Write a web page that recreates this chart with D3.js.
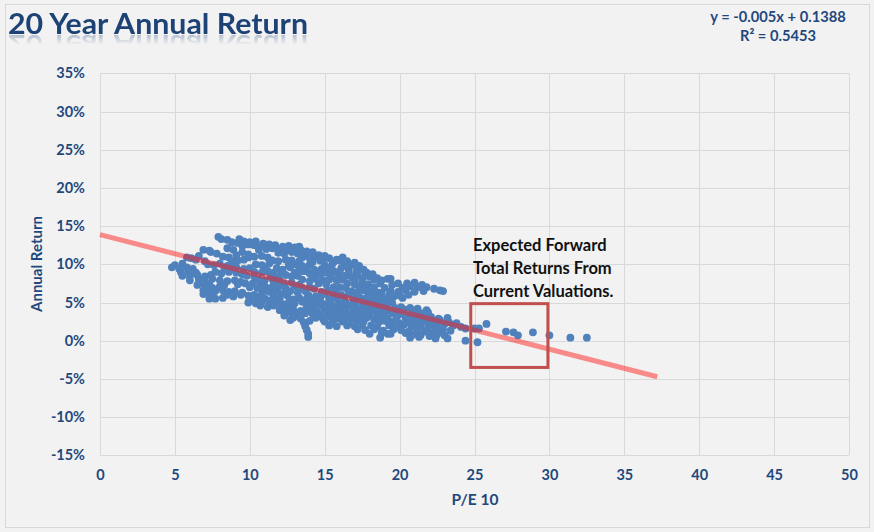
<!DOCTYPE html>
<html>
<head>
<meta charset="utf-8">
<script src="https://cdn.jsdelivr.net/npm/d3@7"></script>
<style>
html,body{margin:0;padding:0;background:#f2f2f2;}
svg{display:block;}
text{font-family:Lato,"Open Sans",sans-serif;}
#wrap{position:relative;width:874px;height:532px;}
#title{position:absolute;left:8px;top:9px;font-family:Lato,"Open Sans",sans-serif;font-weight:bold;
  font-size:28px;line-height:28px;white-space:nowrap;color:#1d4275;transform-origin:0 0;
  -webkit-box-reflect: below -5px linear-gradient(to bottom, rgba(0,0,0,0) 55%, rgba(0,0,0,0.38));}
</style>
</head>
<body>
<div id="wrap">
<svg id="chart" width="874" height="532"></svg>
<div id="title"></div>
</div>
<script>
// ---------------- DATA ----------------
const xTicks = [0,5,10,15,20,25,30,35,40,45,50];
const yTicks = [-15,-10,-5,0,5,10,15,20,25,30,35];
const titleText = "20 Year Annual Return";
const xAxisTitle = "P/E 10";
const yAxisTitle = "Annual Return";
const equationLines = ["y = -0.005x + 0.1388", "R\u00B2 = 0.5453"];
const trendSlope = -0.005, trendIntercept = 0.1388, trendXRange = [0, 37.2];
const annotationLines = ["Expected Forward", "Total Returns From", "Current Valuations."];
const annotationBox = {pe:[24.75, 29.9], ret:[4.85, -3.5]};

// [P/E 10, annual return %]
const lowValuationPoints = [
[7.9,13.6],[8.1,13.3],[8.5,13.2],[9.3,13.3],[8.8,12.9],[9.2,12.8],[9.6,13.0],
[9.5,12.4],[8.5,12.1],[8.9,11.9],[7.4,11.6],[7.8,11.4],[9.5,11.6],[9.9,11.3],
[6.6,11.1],[6.9,11.9],[7.3,11.8],[8.2,11.0],[8.6,10.9],[9.9,10.9],[9.1,11.2],
[5.8,10.9],[6.1,10.8],[6.4,10.6],[7.0,10.4],[9.2,10.5],[9.6,10.6],[8.8,10.4],
[5.0,9.9],[5.5,10.1],[7.2,10.0],[7.6,9.9],[8.0,10.1],[8.5,9.8],[9.0,10.0],
[4.8,9.6],[5.3,9.4],[5.8,9.6],[6.2,9.4],[8.3,9.5],[8.7,9.3],[9.1,9.6],[9.6,9.4],
[5.4,9.0],[5.9,9.1],[6.4,8.9],[7.7,9.0],[8.1,8.8],[8.6,9.0],[9.1,8.9],[9.5,8.7],
[5.5,8.5],[6.0,8.4],[6.5,8.6],[7.0,8.4],[9.8,8.5],[7.4,8.6],
[6.0,7.9],[6.6,8.0],[7.0,7.9],[7.5,8.1],[8.0,7.9],[8.5,7.8],[9.0,7.9],[9.4,7.7],
[6.5,7.3],[6.9,7.5],[7.3,7.4],[9.2,7.4],[9.7,7.5],[8.3,7.3],
[6.9,6.6],[7.1,7.0],[7.5,6.9],[8.0,7.1],
[7.3,6.4],[7.7,6.5],[8.2,6.6],[8.6,6.4],[9.0,6.5],[9.5,6.3],
[6.9,6.1],[7.4,5.9],[8.5,6.0],[8.9,5.8],[9.4,6.0],[9.9,5.9],
[7.3,5.5],[7.7,5.5],[8.2,5.6]
];
const midValuationPoints = [
[10.0,12.9],[10.4,13.0],[10.9,12.7],
[9.9,12.6],[10.3,12.5],[10.8,12.4],[11.3,12.6],[11.7,12.5],[12.2,12.3],[12.6,12.4],[13.0,12.2],[13.3,12.3],
[10.6,11.9],[11.1,12.0],[11.5,12.1],[12.0,11.9],[12.4,12.0],[12.9,11.8],[13.4,11.9],[13.8,11.7],[14.2,11.6],
[11.9,11.5],[12.3,11.4],[12.8,11.6],[13.2,11.4],[13.7,11.3],[14.1,11.4],[14.6,11.2],[15.0,11.1],
[10.3,11.0],[10.8,11.1],[11.2,10.9],[13.5,10.9],[14.0,10.8],[14.4,11.0],[14.9,10.7],[15.3,10.8],[15.8,10.6],
[11.5,10.5],[11.9,10.4],[12.4,10.6],[12.8,10.5],[14.2,10.3],[14.7,10.5],[15.6,10.3],[13.3,10.4],
[10.4,10.0],[10.8,9.9],[11.3,10.1],[12.6,9.9],[13.1,10.0],[13.5,9.8],[14.0,10.0],[15.0,9.9],[15.5,10.0],
[10.0,9.5],[11.8,9.5],[12.2,9.3],[12.7,9.6],[13.3,9.4],[13.8,9.5],[14.3,9.3],[14.8,9.4],[15.3,9.5],[11.0,9.6],
[10.3,9.0],[10.8,8.9],[11.2,9.1],[11.6,8.9],[12.1,9.0],[13.0,8.9],[13.6,9.1],[14.0,8.8],[14.6,9.0],[15.1,8.9],[15.6,9.1],
[10.3,8.4],[11.4,8.5],[11.9,8.3],[12.4,8.6],[12.8,8.4],[13.2,8.5],[14.2,8.4],[14.7,8.6],[15.4,8.4],[15.9,8.5],
[10.6,8.0],[11.0,7.9],[11.5,8.1],[12.0,7.9],[13.5,8.0],[14.0,7.8],[14.4,8.1],[14.9,7.9],[15.3,8.0],[15.8,7.9],
[10.2,7.5],[10.7,7.4],[12.3,7.5],[12.8,7.6],[13.3,7.3],[14.6,7.5],[15.1,7.4],[11.6,7.6],
[10.0,7.0],[10.5,6.9],[11.0,7.1],[11.4,6.9],[11.9,7.0],[12.4,6.8],[13.0,7.1],[13.5,6.9],[14.0,7.0],[14.3,6.8],[15.6,7.0],
[10.9,6.5],[11.3,6.4],[11.8,6.6],[12.7,6.5],[13.2,6.3],[13.7,6.5],[14.8,6.4],[15.2,6.6],[15.7,6.4],
[10.3,6.0],[11.6,5.9],[12.1,6.1],[12.5,5.9],[13.9,6.0],[14.4,5.8],[15.0,6.1],[15.5,5.9],[10.8,6.1],
[10.0,5.4],[10.5,5.6],[11.0,5.5],[11.4,5.3],[12.0,5.5],[12.9,5.4],[13.3,5.6],[13.8,5.5],[14.2,5.3],[14.7,5.5],[15.3,5.4],[15.8,5.6],
[9.9,5.0],[10.4,4.9],[10.8,5.1],[11.3,4.9],[11.7,5.0],[12.2,4.8],[12.6,5.0],[13.0,4.9],[13.5,5.1],[14.0,4.9],[14.4,5.0],[14.9,4.8],[15.4,5.0],[15.9,4.9],
[10.7,4.6],[11.2,4.4],[11.6,4.6],[12.1,4.5],[12.6,4.3],[13.8,4.5],[14.3,4.4],[14.8,4.6],[15.2,4.5],[15.7,4.3],
[12.0,4.0],[12.4,3.9],[12.9,4.1],[13.4,3.9],[14.1,4.0],[14.5,3.8],[15.0,4.1],[15.5,3.9],[15.9,4.0],
[12.3,3.3],[12.8,3.5],[13.2,3.4],[13.7,3.6],[14.2,3.5],[14.7,3.3],[15.2,3.5],[15.7,3.4],
[12.7,2.7],[12.9,3.0],[13.4,2.9],[14.4,3.0],[14.9,2.8],[15.4,3.1],[15.8,2.9],
[13.6,2.4],[14.0,2.6],[15.0,2.5],[15.5,2.4],
[13.7,1.9],[15.3,2.0],[15.8,1.9],
[13.8,1.4],[13.9,0.9],[13.9,0.5]
];
const highValuationPoints = [
[16.2,10.9],
[16.0,10.5],[16.5,10.4],[17.0,10.2],
[16.3,10.0],[16.8,9.9],[17.3,9.8],
[16.1,9.5],[17.2,9.4],[17.6,9.3],[16.6,9.4],
[16.0,9.0],[16.6,8.8],[17.8,8.9],[18.2,8.7],[17.1,9.0],
[16.4,8.5],[16.8,8.3],[17.2,8.6],[17.7,8.5],[18.0,8.4],[18.5,8.2],
[16.2,8.0],[17.0,7.9],[17.5,8.1],[18.3,8.0],[18.8,7.9],[19.2,8.1],[19.4,8.1],
[16.5,7.5],[17.0,7.4],[17.5,7.6],[17.9,7.4],[18.7,7.5],[19.5,7.3],[19.9,7.5],[20.5,7.5],[21.0,7.6],[21.5,7.3],
[16.0,7.0],[16.4,6.9],[17.3,7.1],[17.8,6.9],[18.3,7.0],[19.0,6.9],[20.2,6.9],[20.7,7.1],[21.2,7.0],[21.8,7.0],[22.3,6.8],[22.7,6.6],
[16.8,6.5],[17.2,6.4],[17.6,6.6],[18.1,6.5],[18.6,6.3],[19.4,6.5],[19.9,6.4],[20.4,6.6],[21.0,6.4],[21.6,6.5],[22.9,6.5],
[16.1,6.0],[16.6,6.1],[17.1,5.9],[17.9,6.0],[18.4,5.8],[18.8,6.1],[19.3,6.0],[20.0,5.9],[20.6,6.0],
[16.3,5.5],[16.9,5.4],[17.4,5.6],[17.8,5.5],[18.2,5.3],[18.7,5.5],[19.1,5.4],[19.6,5.8],[20.2,5.6],
[16.4,5.0],[17.0,4.9],[17.5,5.1],[18.0,4.9],[18.5,5.0],[19.0,4.8],[19.5,5.0],
[16.2,4.5],[16.6,4.6],[17.1,4.4],[17.6,4.5],[18.1,4.6],[18.6,4.4],[19.1,4.5],[19.7,4.3],[20.1,4.4],[20.7,4.3],[21.2,4.2],[21.8,4.0],
[16.4,4.0],[16.9,3.9],[17.3,4.1],[17.8,3.9],[18.2,4.0],[18.8,3.8],[19.3,4.0],[19.8,3.9],[20.3,4.1],[20.9,3.8],[21.4,3.6],[21.9,3.7],
[16.1,3.5],[16.6,3.4],[17.0,3.6],[17.5,3.5],[18.0,3.3],[18.5,3.5],[19.0,3.4],[19.5,3.6],[20.1,3.5],[20.6,3.3],[21.1,3.2],[21.6,3.4],[22.1,3.1],[22.6,2.9],[23.2,3.0],
[16.3,3.0],[16.8,2.9],[17.3,3.1],[17.8,3.0],[18.3,2.8],[18.7,3.0],[19.2,2.9],[19.8,3.1],[20.4,3.0],[20.8,2.8],[21.3,2.9],[21.8,2.7],[22.3,2.6],[22.7,2.7],[23.3,2.4],[23.8,2.3],
[16.2,2.5],[16.6,2.4],[17.1,2.6],[17.6,2.5],[18.6,2.4],[19.0,2.6],[19.5,2.5],[20.0,2.3],[20.5,2.5],[21.1,2.3],[21.5,2.4],[22.0,2.2],[22.5,2.1],[23.0,2.2],[23.6,2.0],[24.1,1.8],[24.4,1.6],
[16.5,2.0],[17.0,1.9],[17.5,2.1],[18.1,2.0],[18.5,1.8],[19.3,2.0],[19.8,1.9],[20.3,2.1],[20.8,1.8],[21.4,1.9],[21.9,1.7],[22.4,1.6],[22.9,1.5],[23.4,1.3],
[17.2,1.5],[17.7,1.4],[18.3,1.5],[18.9,1.3],[19.6,1.5],[20.1,1.4],[20.6,1.2],[21.2,1.4],[21.7,1.2],[22.2,1.0],[22.7,1.2],
[18.0,0.9],[18.8,1.0],[19.2,0.9],[19.4,0.9],[20.4,1.0],[20.9,0.8],[21.4,0.7],[22.0,0.6],[22.5,0.8],[23.0,0.7],
[18.7,0.4],[20.7,0.4],[21.3,0.5],[22.4,0.3],[23.2,0.3]
];
const recentPoints = [
[24.4,0.0],[25.0,1.6],[25.3,1.6],[25.8,2.2],[25.2,-0.2],[27.1,1.2],[27.6,1.1],[27.9,0.7],
[28.9,1.1],[30.0,0.7],[31.4,0.4],[32.5,0.4]
];

// ---------------- LAYOUT ----------------
const W = 874, H = 532;
const plot = {left:100, right:849, top:73.3, bottom:455.3};
const navy = "#1f487c";
const svg = d3.select("#chart");

const x = d3.scaleLinear().domain([0,50]).range([plot.left, plot.right]);
const y = d3.scaleLinear().domain([-15,35]).range([plot.bottom, plot.top]);

// background + border
svg.append("rect").attr("x",0).attr("y",0).attr("width",W).attr("height",H).attr("fill","#f2f2f2");
svg.append("rect").attr("x",5.5).attr("y",4.5).attr("width",864).attr("height",523)
  .attr("fill","none").attr("stroke","#d9d9d9").attr("stroke-width",1);

// gridlines
const grid = svg.append("g");
grid.selectAll("line.h").data(yTicks).join("line")
  .attr("x1",plot.left).attr("x2",plot.right)
  .attr("y1",d=>Math.round(y(d))+0.5).attr("y2",d=>Math.round(y(d))+0.5)
  .attr("stroke","#d9d9d9").attr("stroke-width",1);
grid.selectAll("line.v").data(xTicks).join("line")
  .attr("y1",plot.top).attr("y2",plot.bottom)
  .attr("x1",d=>Math.round(x(d))+0.5).attr("x2",d=>Math.round(x(d))+0.5)
  .attr("stroke","#d9d9d9").attr("stroke-width",1);

// axes (labels only, via d3 axis)
const yAxis = svg.append("g").attr("transform",`translate(${plot.left-15},0)`)
  .call(d3.axisLeft(y).tickValues(yTicks).tickFormat(d=>d+"%").tickSize(0).tickPadding(0));
yAxis.select(".domain").remove();
yAxis.selectAll("text").attr("fill",navy).style("font-size","14.5px").style("font-weight","bold")
  .attr("font-family","Lato");

const xAxis = svg.append("g").attr("transform",`translate(0,${plot.bottom+14})`)
  .call(d3.axisBottom(x).tickValues(xTicks).tickFormat(d3.format("d")).tickSize(0).tickPadding(0));
xAxis.select(".domain").remove();
xAxis.selectAll("text").attr("fill",navy).style("font-size","14.5px").style("font-weight","bold")
  .attr("font-family","Lato");

// axis titles
svg.append("text").attr("x",475).attr("y",505).attr("text-anchor","middle")
  .attr("fill",navy).style("font-size","15.5px").style("font-weight","bold").text(xAxisTitle);
svg.append("text").attr("transform","translate(42,264) rotate(-90)").attr("text-anchor","middle")
  .attr("fill",navy).style("font-size","15px").style("font-weight","bold").text(yAxisTitle);

// scatter
const allPoints = [...lowValuationPoints, ...midValuationPoints, ...highValuationPoints, ...recentPoints];
svg.append("g").selectAll("circle").data(allPoints).join("circle")
  .attr("cx",d=>x(d[0])).attr("cy",d=>y(d[1])).attr("r",3.9)
  .attr("fill","#4f81bd");

// trendline
const trend = trendXRange.map(v=>[v, (trendSlope*v + trendIntercept)*100]);
svg.append("path").datum(trend)
  .attr("d", d3.line().x(d=>x(d[0])).y(d=>y(d[1])))
  .attr("stroke","#ff1a1a").attr("stroke-opacity",0.48).attr("stroke-width",5)
  .attr("fill","none");

// annotation box
svg.append("rect")
  .attr("x",x(annotationBox.pe[0])).attr("y",y(annotationBox.ret[0]))
  .attr("width",x(annotationBox.pe[1])-x(annotationBox.pe[0]))
  .attr("height",y(annotationBox.ret[1])-y(annotationBox.ret[0]))
  .attr("fill","none").attr("stroke","#c0504d").attr("stroke-width",3);

// annotation text
svg.append("g").selectAll("text").data(annotationLines).join("text")
  .attr("x",473).attr("y",(d,i)=>250.5+i*23)
  .attr("fill","#111").style("font-size","16.5px").style("font-weight","bold").text(d=>d);

// equation
svg.append("g").selectAll("text").data(equationLines).join("text")
  .attr("x",778).attr("y",(d,i)=>22+i*19).attr("text-anchor","middle")
  .attr("fill",navy).style("font-size","14.7px").style("font-weight","bold").text(d=>d);

// title (HTML, with reflection)
const titleDiv = d3.select("#title").text(titleText);
const tw = titleDiv.node().getBoundingClientRect().width;
titleDiv.style("transform", `scaleX(${300/tw})`);
</script>
</body>
</html>
